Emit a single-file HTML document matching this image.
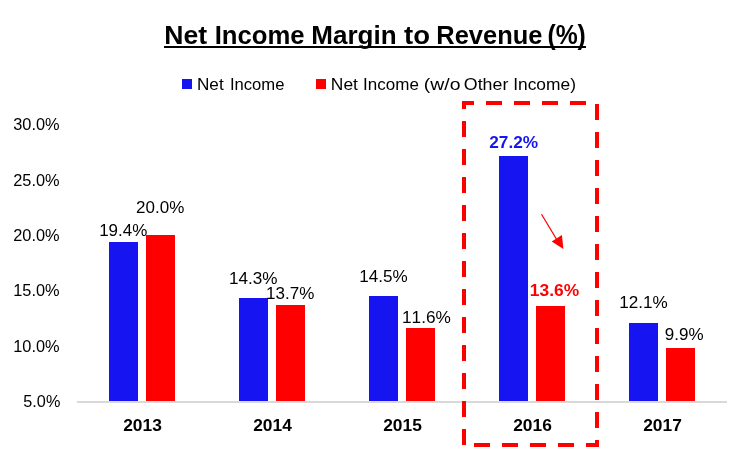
<!DOCTYPE html>
<html><head><meta charset="utf-8"><style>
html,body{margin:0;padding:0;background:#fff;width:750px;height:450px;overflow:hidden}
svg{display:block;will-change:transform}
text{font-family:"Liberation Sans",sans-serif;font-kerning:none;white-space:pre}
</style></head><body>
<svg width="750" height="450" viewBox="0 0 750 450">
<rect width="750" height="450" fill="#fff"/>
<text x="164.24" y="44" font-weight="bold" font-size="25.7" fill="#000" textLength="42.88" lengthAdjust="spacingAndGlyphs">Net</text>
<text x="214.7" y="44" font-weight="bold" font-size="25.7" fill="#000" textLength="89.98" lengthAdjust="spacingAndGlyphs">Income</text>
<text x="311.28" y="44" font-weight="bold" font-size="25.7" fill="#000" textLength="85.39" lengthAdjust="spacingAndGlyphs">Margin</text>
<text x="404.08" y="44" font-weight="bold" font-size="25.7" fill="#000" textLength="25.95" lengthAdjust="spacingAndGlyphs">to</text>
<text x="436.32" y="44" font-weight="bold" font-size="25.7" fill="#000" textLength="106.11" lengthAdjust="spacingAndGlyphs">Revenue</text>
<text x="547.41" y="44" font-weight="bold" font-size="27" fill="#000" textLength="38.46" lengthAdjust="spacingAndGlyphs">(%)</text>
<rect x="164" y="46" width="422" height="2" fill="#000"/>
<rect x="182" y="79" width="10" height="10" fill="#1614F0"/>
<rect x="316" y="79" width="10" height="10" fill="#FF0000"/>
<text x="196.99" y="90" font-weight="normal" font-size="17" fill="#000" textLength="26.67" lengthAdjust="spacingAndGlyphs">Net</text>
<text x="229.94" y="90" font-weight="normal" font-size="17" fill="#000" textLength="54.5" lengthAdjust="spacingAndGlyphs">Income</text>
<text x="330.87" y="90" font-weight="normal" font-size="17" fill="#000" textLength="27.09" lengthAdjust="spacingAndGlyphs">Net</text>
<text x="363.1" y="90" font-weight="normal" font-size="17" fill="#000" textLength="55.75" lengthAdjust="spacingAndGlyphs">Income</text>
<text x="423.84" y="90" font-weight="normal" font-size="17" fill="#000" textLength="36.68" lengthAdjust="spacingAndGlyphs">(w/o</text>
<text x="463.86" y="90" font-weight="normal" font-size="17" fill="#000" textLength="44.47" lengthAdjust="spacingAndGlyphs">Other</text>
<text x="513.16" y="90" font-weight="normal" font-size="17" fill="#000" textLength="62.77" lengthAdjust="spacingAndGlyphs">Income)</text>
<text x="13.23" y="130" font-weight="normal" font-size="17" fill="#000" textLength="46.35" lengthAdjust="spacingAndGlyphs">30.0%</text>
<text x="13.23" y="185.5" font-weight="normal" font-size="17" fill="#000" textLength="46.35" lengthAdjust="spacingAndGlyphs">25.0%</text>
<text x="13.23" y="241" font-weight="normal" font-size="17" fill="#000" textLength="46.35" lengthAdjust="spacingAndGlyphs">20.0%</text>
<text x="13.23" y="296" font-weight="normal" font-size="17" fill="#000" textLength="46.35" lengthAdjust="spacingAndGlyphs">15.0%</text>
<text x="13.23" y="352" font-weight="normal" font-size="17" fill="#000" textLength="46.35" lengthAdjust="spacingAndGlyphs">10.0%</text>
<text x="23.33" y="407" font-weight="normal" font-size="17" fill="#000" textLength="36.99" lengthAdjust="spacingAndGlyphs">5.0%</text>
<rect x="77" y="401" width="650" height="2" fill="#D9D9D9"/>
<rect x="109" y="242" width="29" height="159" fill="#1614F0"/>
<rect x="146" y="235" width="29" height="166" fill="#FF0000"/>
<rect x="239" y="298" width="29" height="103" fill="#1614F0"/>
<rect x="276" y="305" width="29" height="96" fill="#FF0000"/>
<rect x="369" y="296" width="29" height="105" fill="#1614F0"/>
<rect x="406" y="328" width="29" height="73" fill="#FF0000"/>
<rect x="499" y="156" width="29" height="245" fill="#1614F0"/>
<rect x="536" y="306" width="29" height="95" fill="#FF0000"/>
<rect x="629" y="323" width="29" height="78" fill="#1614F0"/>
<rect x="666" y="348" width="29" height="53" fill="#FF0000"/>
<text x="99.2" y="236" font-weight="normal" font-size="17" fill="#000" textLength="48.1" lengthAdjust="spacingAndGlyphs">19.4%</text>
<text x="136.1" y="213" font-weight="normal" font-size="17" fill="#000" textLength="48.2" lengthAdjust="spacingAndGlyphs">20.0%</text>
<text x="228.99" y="284" font-weight="normal" font-size="17" fill="#000" textLength="48.52" lengthAdjust="spacingAndGlyphs">14.3%</text>
<text x="266.1" y="299" font-weight="normal" font-size="17" fill="#000" textLength="48.2" lengthAdjust="spacingAndGlyphs">13.7%</text>
<text x="359.29" y="282" font-weight="normal" font-size="17" fill="#000" textLength="48.41" lengthAdjust="spacingAndGlyphs">14.5%</text>
<text x="401.95" y="323" font-weight="normal" font-size="17" fill="#000" textLength="48.92" lengthAdjust="spacingAndGlyphs">11.6%</text>
<text x="619.19" y="308" font-weight="normal" font-size="17" fill="#000" textLength="48.52" lengthAdjust="spacingAndGlyphs">12.1%</text>
<text x="664.8" y="340" font-weight="normal" font-size="17" fill="#000" textLength="38.75" lengthAdjust="spacingAndGlyphs">9.9%</text>
<text x="489.19" y="148" font-weight="bold" font-size="17" fill="#1614F0" textLength="48.92" lengthAdjust="spacingAndGlyphs">27.2%</text>
<text x="529.88" y="296" font-weight="bold" font-size="17" fill="#FF0000" textLength="49.24" lengthAdjust="spacingAndGlyphs">13.6%</text>
<text x="123.19" y="431" font-weight="bold" font-size="17" fill="#000" textLength="38.65" lengthAdjust="spacingAndGlyphs">2013</text>
<text x="253.19" y="431" font-weight="bold" font-size="17" fill="#000" textLength="38.65" lengthAdjust="spacingAndGlyphs">2014</text>
<text x="383.19" y="431" font-weight="bold" font-size="17" fill="#000" textLength="38.65" lengthAdjust="spacingAndGlyphs">2015</text>
<text x="513.19" y="431" font-weight="bold" font-size="17" fill="#000" textLength="38.65" lengthAdjust="spacingAndGlyphs">2016</text>
<text x="643.19" y="431" font-weight="bold" font-size="17" fill="#000" textLength="38.65" lengthAdjust="spacingAndGlyphs">2017</text>
<line x1="541.5" y1="214.3" x2="557" y2="240" stroke="#FF0000" stroke-width="1.25"/>
<polygon points="551.7,241.4 561.9,235 563.4,249" fill="#FF0000"/>
<path d="M464,445 L464,103 L597,103 L597,445 L464,445" fill="none" stroke="#FF0000" stroke-width="4" stroke-dasharray="16 12" stroke-linejoin="miter"/>
</svg>
</body></html>
